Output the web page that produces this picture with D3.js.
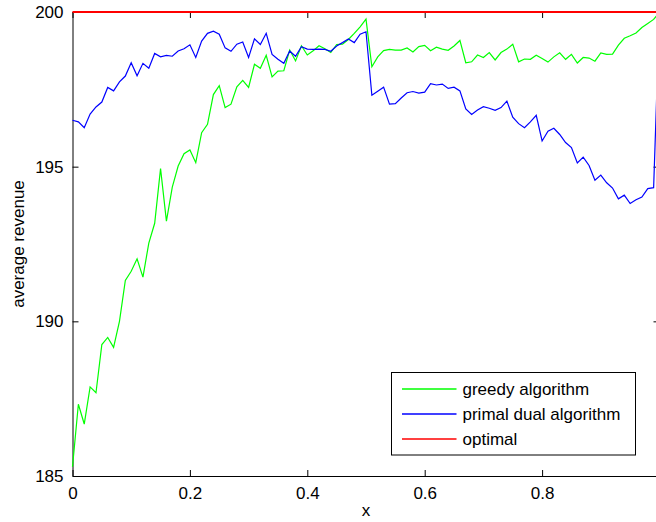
<!DOCTYPE html>
<html>
<head>
<meta charset="utf-8">
<script src="https://cdn.jsdelivr.net/npm/d3@7"></script>
<style>
  body { margin: 0; background: #fff; }
  text { font-family: "Liberation Sans", Arial, sans-serif; }
</style>
</head>
<body>
<div id="chart"></div>
<script>
// x values: 0, 0.01, ..., 1.00
const xValues = d3.range(101).map(i => i / 100);

const greedy = [
  185.3, 187.32, 186.68, 187.88, 187.69, 189.25, 189.48, 189.16, 190.0, 191.32,
  191.62, 192.02, 191.43, 192.53, 193.17, 194.94, 193.24, 194.34, 195.02, 195.42,
  195.54, 195.13, 196.10, 196.37, 197.33, 197.62, 196.91, 197.02, 197.58, 197.79,
  197.56, 198.31, 198.18, 198.60, 197.90, 198.09, 198.10, 198.77, 198.42, 198.91,
  198.61, 198.75, 198.91, 198.81, 198.69, 198.95, 198.96, 199.11, 199.31, 199.52,
  199.77, 198.23, 198.55, 198.75, 198.79, 198.77, 198.77, 198.84, 198.71, 198.88,
  198.92, 198.75, 198.86, 198.80, 198.76, 198.90, 199.08, 198.36, 198.39, 198.61,
  198.53, 198.69, 198.45, 198.69, 198.80, 198.96, 198.39, 198.48, 198.47, 198.60,
  198.50, 198.38, 198.55, 198.68, 198.47, 198.63, 198.35, 198.53, 198.51, 198.41,
  198.68, 198.63, 198.64, 198.93, 199.15, 199.23, 199.32, 199.50, 199.63, 199.76,
  200.0
];

const primalDual = [
  196.50, 196.45, 196.26, 196.70, 196.93, 197.09, 197.56, 197.45, 197.74, 197.93,
  198.36, 197.94, 198.34, 198.18, 198.66, 198.55, 198.60, 198.57, 198.74, 198.81,
  198.94, 198.53, 199.06, 199.31, 199.38, 199.28, 198.84, 198.73, 198.96, 199.03,
  198.53, 199.13, 198.95, 199.31, 198.63, 198.47, 198.34, 198.74, 198.57, 198.88,
  198.80, 198.79, 198.80, 198.79, 198.73, 198.90, 199.01, 199.13, 199.01, 199.28,
  199.36, 197.31, 197.44, 197.57, 197.02, 197.04, 197.22, 197.39, 197.43, 197.38,
  197.41, 197.68, 197.64, 197.67, 197.53, 197.57, 197.45, 196.87, 196.69, 196.83,
  196.94, 196.89, 196.82, 196.91, 197.12, 196.60, 196.39, 196.26, 196.45, 196.66,
  195.83, 196.15, 196.24, 196.04, 195.78, 195.62, 195.12, 195.31, 195.04, 194.56,
  194.73, 194.48, 194.31, 193.96, 194.08, 193.81, 193.93, 194.02, 194.29, 194.32,
  200.0
];

const optimal = xValues.map(() => 200);

const xTicks = [0, 0.2, 0.4, 0.6, 0.8];
const yTicks = [185, 190, 195, 200];

const seriesNames = ["greedy algorithm", "primal dual algorithm", "optimal"];
const seriesColors = ["#00ff00", "#0000ff", "#ff0000"];

const width = 656, height = 522;
const plotLeft = 72.5, plotRight = 659.5, plotTop = 12, plotBottom = 476;

const x = d3.scaleLinear().domain([0, 1]).range([plotLeft, plotRight]);
const y = d3.scaleLinear().domain([185, 200]).range([plotBottom, plotTop]);

const svg = d3.select("#chart")
  .append("svg")
  .attr("width", width)
  .attr("height", height);

// axes box
const fontSize = 17;
svg.append("g")
  .attr("transform", "translate(0," + plotBottom + ")")
  .call(d3.axisBottom(x).tickValues(xTicks).tickFormat(d3.format("")).tickSizeInner(-6).tickSizeOuter(0).tickPadding(11))
  .call(g => g.select(".domain").attr("stroke", "#000"))
  .call(g => g.selectAll("text").attr("font-size", fontSize).attr("fill", "#000").attr("font-family", "Liberation Sans, Arial, sans-serif"));

svg.append("g")
  .attr("transform", "translate(0," + plotTop + ")")
  .call(d3.axisTop(x).tickValues(xTicks).tickFormat("").tickSizeInner(-6).tickSizeOuter(0))
  .call(g => g.select(".domain").attr("stroke", "#000"));

svg.append("g")
  .attr("transform", "translate(" + plotLeft + ",0)")
  .call(d3.axisLeft(y).tickValues(yTicks).tickSizeInner(-6).tickSizeOuter(0).tickPadding(9))
  .call(g => g.select(".domain").attr("stroke", "#000"))
  .call(g => g.selectAll("text").attr("font-size", fontSize).attr("fill", "#000").attr("font-family", "Liberation Sans, Arial, sans-serif"));

svg.append("g")
  .attr("transform", "translate(" + plotRight + ",0)")
  .call(d3.axisRight(y).tickValues(yTicks).tickFormat("").tickSizeInner(-6).tickSizeOuter(0))
  .call(g => g.select(".domain").attr("stroke", "#000"));

// lines
const line = d3.line()
  .x((d, i) => x(xValues[i]))
  .y(d => y(d));

svg.append("path")
  .datum(greedy)
  .attr("fill", "none")
  .attr("stroke", seriesColors[0])
  .attr("stroke-width", 1.2)
  .attr("d", line);

svg.append("path")
  .datum(primalDual)
  .attr("fill", "none")
  .attr("stroke", seriesColors[1])
  .attr("stroke-width", 1.2)
  .attr("d", line);

svg.append("path")
  .datum(optimal)
  .attr("fill", "none")
  .attr("stroke", seriesColors[2])
  .attr("stroke-width", 2)
  .attr("d", line);

// axis labels
svg.append("text")
  .attr("x", x(0.5))
  .attr("y", 516)
  .attr("text-anchor", "middle")
  .attr("font-size", fontSize)
  .text("x");

svg.append("text")
  .attr("transform", "translate(24," + y(192.5) + ") rotate(-90)")
  .attr("text-anchor", "middle")
  .attr("font-size", fontSize)
  .text("average revenue");

// legend
const legend = svg.append("g");
legend.append("rect")
  .attr("x", 391.5).attr("y", 372.5)
  .attr("width", 244).attr("height", 82.5)
  .attr("fill", "#fff").attr("stroke", "#000").attr("stroke-width", 1);

seriesNames.forEach((name, i) => {
  const ry = 389 + i * 25;
  legend.append("line")
    .attr("x1", 402).attr("x2", 456.5)
    .attr("y1", ry).attr("y2", ry)
    .attr("stroke", seriesColors[i]).attr("stroke-width", 1.3);
  legend.append("text")
    .attr("x", 462.5).attr("y", ry)
    .attr("dy", "0.35em")
    .attr("font-size", fontSize)
    .text(name);
});
</script>
</body>
</html>
